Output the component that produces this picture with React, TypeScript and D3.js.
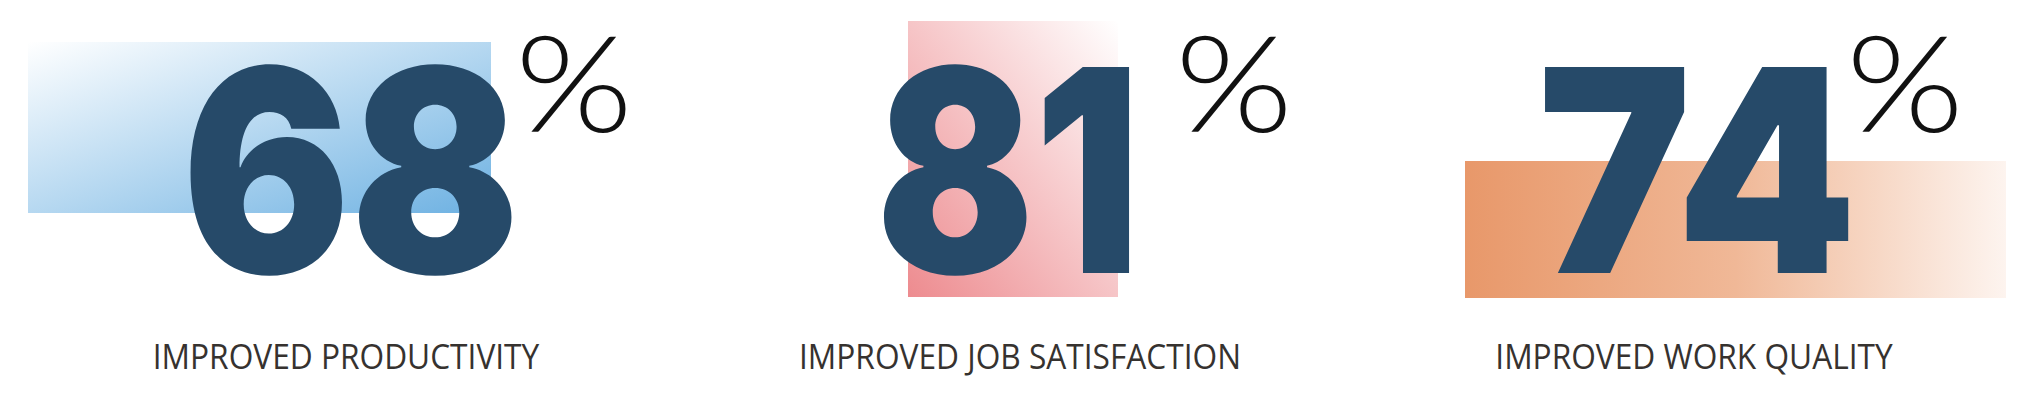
import React from "react";
import * as d3 from "d3";

// stat values and their captions
const categories = ["IMPROVED PRODUCTIVITY", "IMPROVED JOB SATISFACTION", "IMPROVED WORK QUALITY"];
const values = [68, 81, 74];

// per-panel layout, offsets relative to the panel centre
const layout = [
  { box: [-318, 145, 42, 213], num: [-164, 174], pct: 169, grad: "g0" },
  { box: [-112, 98, 21, 297], num: [-144, 120], pct: 155, grad: "g1" },
  { box: [-229, 312, 161, 298], num: [-156, 163], pct: 152, grad: "g2" }
];

const WIDTH = 2038;
const HEIGHT = 413;
const NAVY = "#264a69";

const App = () => {
  const x = d3.scaleBand<string>()
    .domain(categories)
    .range([9, 2031])
    .padding(0);
  const bw = x.bandwidth();

  return (
    <svg
      width={WIDTH}
      height={HEIGHT}
      style={{ position: "absolute", left: 0, top: 0, background: "#fff" }}
    >
      <defs>
        <linearGradient id="g0" x1="0" y1="0" x2="1" y2="1">
          <stop offset="0%" stopColor="#ffffff" />
          <stop offset="100%" stopColor="#6db1e2" />
        </linearGradient>
        <linearGradient id="g1" x1="0" y1="1" x2="1" y2="0">
          <stop offset="0%" stopColor="#ed8b8f" />
          <stop offset="100%" stopColor="#ffffff" />
        </linearGradient>
        <linearGradient id="g2" x1="0" y1="0" x2="1" y2="0">
          <stop offset="0%" stopColor="#e8986a" />
          <stop offset="50%" stopColor="#f0b897" />
          <stop offset="100%" stopColor="#fdf4ef" />
        </linearGradient>
      </defs>

      {categories.map((cat, i) => {
        const cx = (x(cat) || 0) + bw / 2;
        const l = layout[i];
        const [bx0, bx1, by0, by1] = l.box;
        return (
          <g key={cat}>
            <rect
              x={cx + bx0}
              y={by0}
              width={bx1 - bx0}
              height={by1 - by0}
              fill={`url(#${l.grad})`}
            />
            <text
              x={cx + l.num[0]}
              y={273}
              fill={NAVY}
              fontFamily="Inter, sans-serif"
              fontWeight={900}
              fontSize={283}
              textLength={l.num[1] - l.num[0]}
              lengthAdjust="spacingAndGlyphs"
            >
              {values[i]}
            </text>
            <text
              x={cx + l.pct}
              y={132}
              fill="#111"
              fontFamily="Lato, sans-serif"
              fontWeight={300}
              fontSize={134}
              textLength={118}
              lengthAdjust="spacingAndGlyphs"
            >
              %
            </text>
            <g transform={`translate(${cx},369) scale(0.905,1)`}>
              <text
                textAnchor="middle"
                fill="#36322f"
                fontFamily="'Open Sans', sans-serif"
                fontWeight={500}
                fontSize={35}
              >
                {cat}
              </text>
            </g>
          </g>
        );
      })}
    </svg>
  );
};

export default App;
